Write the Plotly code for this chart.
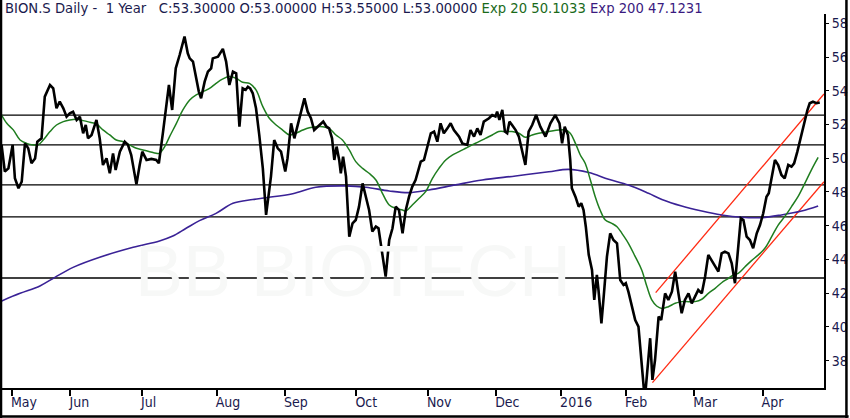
import plotly.graph_objects as go

# x positions are trading days counted from the first session in May 2015
month_days = [0, 18, 40, 63, 84, 106, 128, 149, 169, 189, 210, 231]
month_labels = ["May", "Jun", "Jul", "Aug", "Sep", "Oct", "Nov", "Dec", "2016", "Feb", "Mar", "Apr"]

close_day = [
    -3.2, -2.2, -1.1, 0.2, 0.9, 2.0, 3.0, 4.0, 5.0, 6.0, 7.1, 7.8, 9.1, 10.1, 11.7, 12.7, 13.7, 14.7,
    15.8, 16.8, 17.8, 18.8, 19.9, 20.9, 21.9, 22.7, 23.4, 24.5, 26.0, 27.0, 28.0, 29.1, 30.1, 31.1,
    31.9, 33.2, 34.7, 35.7, 36.7, 38.3, 39.3, 40.1, 41.4, 42.9, 44.4, 45.2, 46.5, 47.3, 48.3, 49.3,
    50.4, 51.6, 53.1, 54.1, 54.7, 55.7, 56.5, 57.5, 58.2, 59.3, 60.3, 61.3, 61.8, 63.4, 64.9, 65.9,
    66.9, 68.0, 69.0, 70.0, 71.0, 71.9, 72.6, 73.3, 74.1, 75.1, 76.1, 77.2, 78.2,
    79.7, 80.7, 81.8, 82.8, 84.1, 84.8, 85.9, 86.9, 88.4, 90.0, 91.0, 92.0, 93.0, 94.6, 95.8, 96.8,
    97.6, 98.5, 99.2, 99.9, 100.7, 101.2, 101.9, 102.8, 103.8, 104.8, 105.8, 106.8, 107.9, 108.9,
    109.9, 110.9, 112.0, 112.8, 113.5, 114.5, 115.0, 116.1, 117.1, 118.1, 119.1, 120.2, 121.2, 122.2,
    123.2, 124.2, 125.8, 126.8, 127.8, 128.9, 129.9, 130.9, 131.9, 132.9, 134.0, 135.0, 136.0, 137.6,
    138.6, 140.1, 141.1, 142.2, 143.2, 144.2, 145.2, 146.8, 147.8, 148.8, 149.3, 150.0, 150.9, 151.7,
    152.4, 153.1, 153.9, 155.0, 156.0, 157.0, 158.0,
    159.0, 160.1, 161.3, 162.6, 164.2, 165.7, 167.2, 168.5, 169.3, 170.1, 171.1, 171.8, 172.3, 173.4,
    174.4, 175.2, 175.9, 176.6, 177.5, 178.5, 179.2, 180.0, 180.5, 181.4, 182.1, 183.1, 184.1, 185.1,
    186.2, 187.2, 188.2, 188.9, 189.7, 190.8, 191.8, 192.8, 193.6, 194.4, 195.1, 195.7, 196.4, 197.1,
    197.9, 199.0, 199.8, 201.0, 202.0, 203.1, 204.1, 205.1, 206.1, 207.1, 208.2, 209.2, 210.2, 211.2,
    212.3, 213.3, 214.3, 215.3, 216.4, 217.4, 218.4, 219.4, 220.5, 221.5, 222.5, 223.5, 224.3, 225.1,
    226.1, 227.1, 228.1, 229.2, 230.2, 231.2, 232.2, 232.9, 233.8, 234.8, 235.8, 236.8, 237.8, 238.9,
    239.9, 240.7, 241.7, 242.8, 243.8, 244.8, 245.5, 246.5, 247.6, 248.6,
]
close_val = [
    50.79, 49.21, 49.40, 50.79, 48.81, 48.22, 48.61, 50.88, 50.59, 49.70, 49.99, 50.98, 51.18, 53.65,
    54.34, 54.14, 52.96, 53.36, 52.96, 52.46, 52.66, 52.76, 52.27, 52.46, 51.48, 51.97, 51.18, 51.38,
    52.27, 51.18, 49.60, 49.99, 49.11, 50.29, 49.30, 50.39, 50.98, 50.79, 50.19, 48.45, 49.60, 50.39,
    49.90, 49.96, 49.90, 49.70, 51.58, 52.96, 54.34, 52.86, 55.33, 56.12, 57.21, 56.22, 55.92, 55.73,
    55.03, 53.95, 53.55, 54.54, 55.13, 55.33, 55.92, 56.02, 56.48, 55.73, 54.34, 55.13, 55.03, 51.87,
    54.14, 54.05, 54.24, 54.14, 53.85, 52.96, 51.38, 49.40, 46.64,
    48.91, 51.08, 50.59, 50.39, 49.21, 50.00, 52.07, 51.18, 52.27, 53.55, 52.76, 52.37, 51.67, 51.97,
    52.17, 51.87, 51.77, 51.18, 49.90, 50.69, 49.90, 49.11, 50.09, 48.91, 45.35, 46.14, 46.34, 47.13,
    48.51, 47.72, 46.93, 45.65, 45.95, 45.85, 44.96, 43.77, 42.98, 45.16, 45.85, 47.13, 46.93, 45.55,
    46.93, 47.72, 48.32, 48.71, 49.80, 49.90, 50.69, 51.48, 51.58, 50.98, 52.07, 51.48, 51.77, 52.07,
    51.67, 51.28, 50.88, 50.79, 51.67, 51.28, 51.77, 51.38, 52.17, 52.37, 52.56, 52.47, 52.76, 52.27,
    52.86, 51.58, 51.48, 52.17, 51.97, 51.67, 51.28, 50.39, 49.60,
    51.58, 51.97, 52.56, 51.87, 51.28, 52.07, 52.56, 52.07, 50.88, 51.87, 51.38, 49.90, 48.22, 47.72,
    47.13, 47.33, 46.93, 45.94, 44.27, 43.38, 41.60, 43.08, 42.19, 40.21, 41.80, 44.17, 45.55, 45.15,
    44.96, 42.78, 42.49, 42.59, 42.09, 41.10, 40.41, 40.02, 38.44, 36.46, 36.46, 38.04, 39.33, 36.86,
    38.04, 40.61, 40.41, 41.99, 41.60, 42.09, 43.28, 41.99, 40.81, 41.60, 41.99, 41.40, 41.80, 42.19,
    41.99, 42.98, 44.27, 43.97, 43.57, 43.28, 44.36, 44.46, 44.36, 43.77, 42.59, 44.96, 46.44, 46.34,
    45.35, 45.15, 44.66, 45.55, 46.04, 46.74, 47.72, 47.92, 48.91, 49.90, 49.60, 49.01, 48.81, 49.60,
    49.50, 49.70, 50.39, 51.28, 51.97, 52.86, 53.26, 53.35, 53.26, 53.30,
]

ema20_day = [
    -3.2, -1.6, 0.4, 2.5, 4.5, 6.6, 8.1, 9.6, 11.7, 13.7, 15.8, 17.8, 19.9, 21.9, 24.0, 26.0, 28.0,
    30.1, 32.1, 34.2, 36.2, 38.3, 40.3, 42.4, 44.4, 45.4, 47.0, 48.5, 50.6, 52.6, 54.7, 56.7, 58.8,
    60.8, 62.8, 64.9, 66.9, 69.0, 71.0, 73.1, 75.1, 77.2, 79.2, 81.3, 83.3, 85.4, 87.4, 89.5, 91.5,
    93.5, 95.6, 97.6, 99.7, 101.7, 103.8, 105.8, 107.9, 109.9, 112.0, 114.0, 116.1, 118.1, 120.2,
    121.2, 123.2, 125.3, 127.3, 129.4, 131.4, 133.5, 135.5, 137.6, 139.6, 141.6, 143.7, 145.7, 147.8,
    149.8, 151.9, 153.9, 156.0, 158.0, 160.1, 162.1, 165.2, 168.3, 170.3, 171.8, 173.4, 174.9, 176.4,
    178.0, 179.5, 181.0, 182.6, 184.6, 186.2, 187.7, 189.7, 191.8, 193.8, 195.4, 196.9, 198.4, 200.0,
    202.0, 204.1, 206.1, 208.2, 210.2, 212.3, 214.3, 216.4, 218.4, 220.5, 222.0, 223.5, 225.6, 227.6,
    229.7, 231.7, 233.8, 235.8, 237.8, 239.9, 241.9, 244.0, 246.0, 248.1,
]
ema20_val = [
    52.56, 52.07, 51.68, 51.08, 50.88, 50.79, 50.79, 51.08, 51.58, 51.97, 52.17, 52.27, 52.31, 52.23,
    52.13, 52.03, 51.68, 51.38, 51.08, 50.98, 50.79, 50.59, 50.49, 50.39, 50.29, 50.29, 50.69, 51.28,
    52.07, 52.86, 53.45, 53.75, 53.95, 54.14, 54.44, 54.70, 54.84, 54.74, 54.50, 54.44, 54.05, 53.06,
    52.37, 51.97, 51.67, 51.38, 51.48, 51.67, 51.81, 51.87, 51.87, 51.77, 51.38, 51.08, 50.49, 49.80,
    49.40, 49.11, 48.71, 47.92, 47.23, 47.03, 46.93, 46.87, 47.23, 47.63, 48.02, 48.81, 49.40, 49.90,
    50.19, 50.39, 50.59, 50.79, 50.98, 51.18, 51.38, 51.58, 51.58, 51.58, 51.48, 51.24, 51.38, 51.48,
    51.58, 51.67, 51.67, 51.48, 50.88, 50.19, 49.70, 48.71, 47.72, 46.93, 46.34, 46.14, 45.94, 45.55,
    44.96, 44.17, 43.38, 42.39, 41.60, 41.24, 41.10, 41.20, 41.40, 41.50, 41.50, 41.50, 41.64, 41.99,
    42.29, 42.62, 42.88, 43.08, 43.18, 43.57, 43.93, 44.27, 44.66, 45.35, 46.04, 46.54, 47.13, 47.72,
    48.51, 49.30, 50.05,
]

ema200_day = [
    -3.7, 2.5, 8.6, 13.2, 18.8, 27.0, 37.3, 45.4, 49.5, 53.6, 57.7, 62.8, 68.0, 74.1, 78.2, 86.4,
    93.5, 102.8, 108.9, 116.1, 122.2, 128.3, 136.5, 144.7, 155.0, 165.2, 171.3, 177.5, 183.6, 189.7,
    195.9, 200.0, 206.1, 212.3, 218.4, 224.5, 230.7, 236.8, 243.0, 248.1,
]
ema200_val = [
    41.50, 41.99, 42.43, 42.94, 43.53, 44.13, 44.72, 45.10, 45.39, 45.85, 46.30, 46.73, 47.33, 47.55,
    47.66, 47.90, 48.28, 48.36, 48.28, 48.06, 47.96, 48.12, 48.42, 48.71, 48.95, 49.20, 49.34, 49.15,
    48.75, 48.41, 47.92, 47.56, 47.17, 46.87, 46.64, 46.50, 46.48, 46.64, 46.87, 47.17,
]

# horizontal support / resistance levels
levels = [52.56, 50.79, 48.42, 46.52, 42.90]

# rising channel drawn from the February low
channel_day = [197.1, 249.9]
channel_low = [36.70, 48.61]
channel_high_day = [198.1, 249.9]
channel_high = [42.03, 53.81]

navy = "#1a1a4e"

fig = go.Figure()

for lv in levels:
    fig.add_shape(type="line", xref="paper", x0=0, x1=1, yref="y", y0=lv, y1=lv,
                  line=dict(color="black", width=1.3), layer="below")

fig.add_trace(go.Scatter(x=channel_day, y=channel_low, mode="lines",
                         line=dict(color="#ff2a12", width=1.3)))
fig.add_trace(go.Scatter(x=channel_high_day, y=channel_high, mode="lines",
                         line=dict(color="#ff2a12", width=1.3)))
fig.add_trace(go.Scatter(x=ema200_day, y=ema200_val, mode="lines", line_shape="spline",
                         line=dict(color="#3a2296", width=1.6)))
fig.add_trace(go.Scatter(x=ema20_day, y=ema20_val, mode="lines", line_shape="spline",
                         line=dict(color="#1f7d1f", width=1.5)))
fig.add_trace(go.Scatter(x=close_day, y=close_val, mode="lines",
                         line=dict(color="black", width=2.6)))

# watermark
fig.add_annotation(text="BB BIOTECH", x=0.427, y=0.2, xref="paper", yref="paper",
                   showarrow=False, font=dict(family="Liberation Sans", size=72, color="#f7f8f7"))

sp = "\u00a0"
title = ("BION.S Daily -" + sp * 2 + "1 Year" + sp * 3 +
         "C:53.30000 O:53.00000 H:53.55000 L:53.00000 "
         "<span style='color:#1a6a1a'>Exp 20 50.1033</span> "
         "<span style='color:#3a1a80'>Exp 200 47.1231</span>")
fig.add_annotation(text=title, x=0.0012, y=1.0134, xref="paper", yref="paper",
                   xanchor="left", yanchor="middle", showarrow=False,
                   font=dict(family="DejaVu Sans", size=13.2, color=navy))

# outer frame (left, right, bottom)
frame = dict(color="black", width=2.5)
fig.add_shape(type="line", xref="paper", yref="paper", x0=-0.0012, x1=-0.0012, y0=-0.08, y1=1.04, line=frame)
fig.add_shape(type="line", xref="paper", yref="paper", x0=1.0273, x1=1.0273, y0=-0.08, y1=1.04, line=frame)
fig.add_shape(type="line", xref="paper", yref="paper", x0=-0.003, x1=1.03, y0=-0.0762, y1=-0.0762, line=frame)

fig.update_layout(
    width=850, height=418,
    margin=dict(l=2, r=24, t=14, b=30),
    paper_bgcolor="white", plot_bgcolor="white",
    showlegend=False,
    xaxis=dict(range=[-3.07, 249.9], tickvals=month_days, ticktext=month_labels,
               ticks="outside", ticklen=6, tickwidth=2, tickcolor="black",
               ticklabelposition="outside right", ticklabelshift=-3,
               showline=True, linecolor="black", linewidth=2, showgrid=False, zeroline=False,
               tickfont=dict(family="DejaVu Sans Condensed", size=14, color=navy)),
    yaxis=dict(range=[36.38, 58.55], side="right", tickvals=list(range(38, 59, 2)),
               ticks="outside", ticklen=3, tickcolor="black",
               showline=True, linecolor="black", linewidth=2, showgrid=False, zeroline=False,
               tickfont=dict(family="DejaVu Sans Condensed", size=14, color=navy)),
)

# the page's default body margin would shift the figure by 8px
fig.write_html("out.html", config={"displayModeBar": False},
               post_script="document.body.style.margin='0';")
